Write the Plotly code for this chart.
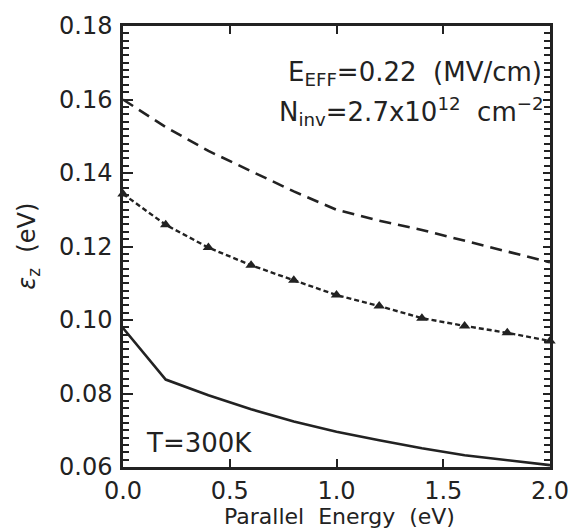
import plotly.graph_objects as go

# Data
x_dash = [0.0, 0.2, 0.4, 0.6, 0.8, 1.0, 1.2, 1.4, 1.6, 1.8, 2.0]
y_dash = [0.1600, 0.1525, 0.1460, 0.1405, 0.1350, 0.1300, 0.1270, 0.1245, 0.1215, 0.1185, 0.1157]

x_tri = [0.0, 0.2, 0.4, 0.6, 0.8, 1.0, 1.2, 1.4, 1.6, 1.8, 2.0]
y_tri = [0.1343, 0.1259, 0.1197, 0.1149, 0.1108, 0.1068, 0.1038, 0.1005, 0.0984, 0.0965, 0.0943]

x_solid = [0.0, 0.2, 0.4, 0.6, 0.8, 1.0, 1.2, 1.4, 1.6, 1.8, 2.0]
y_solid = [0.0978, 0.0838, 0.0795, 0.0757, 0.0724, 0.0696, 0.0673, 0.0651, 0.0632, 0.0619, 0.0605]

x_ticks = [0.0, 0.5, 1.0, 1.5, 2.0]
y_ticks = [0.06, 0.08, 0.10, 0.12, 0.14, 0.16, 0.18]
x_range = [0.0, 2.0]
y_range = [0.06, 0.18]

INK = "#222222"
FONT = "DejaVu Sans"

fig = go.Figure()
fig.add_trace(go.Scatter(x=x_dash, y=y_dash, mode="lines",
                         line=dict(color=INK, width=2.6, dash="12px,7px"),
                         showlegend=False, hoverinfo="skip"))
fig.add_trace(go.Scatter(x=x_tri, y=y_tri, mode="lines+markers",
                         line=dict(color=INK, width=2.4, dash="5px,3px"),
                         marker=dict(symbol="triangle-up", size=10, color=INK),
                         showlegend=False, hoverinfo="skip", cliponaxis=False))
fig.add_trace(go.Scatter(x=x_solid, y=y_solid, mode="lines",
                         line=dict(color=INK, width=2.6),
                         showlegend=False, hoverinfo="skip"))
# invisible trace to activate the mirrored (top/right) tick axes
fig.add_trace(go.Scatter(x=x_range, y=y_range, mode="markers", xaxis="x2", yaxis="y2",
                         marker=dict(opacity=0), showlegend=False, hoverinfo="skip"))

fig.update_layout(
    width=581, height=530,
    margin=dict(l=123, r=15, t=24, b=63),
    paper_bgcolor="white", plot_bgcolor="white",
    font=dict(family=FONT, color=INK, size=24),
    xaxis=dict(range=x_range, tickvals=x_ticks, tickformat=".1f",
               ticks="inside", ticklen=8, tickwidth=2, tickcolor=INK,
               showline=True, linecolor=INK, linewidth=2.5,
               showgrid=False, zeroline=False, ticklabeloverflow="allow",
               tickfont=dict(family=FONT, size=24)),
    yaxis=dict(range=y_range, tickvals=y_ticks, tickformat=".2f",
               ticks="inside", ticklen=10, tickwidth=2, tickcolor=INK,
               minor=dict(dtick=0.002, ticks="inside", ticklen=6, tickwidth=1.6, tickcolor=INK),
               showline=True, linecolor=INK, linewidth=2.5,
               showgrid=False, zeroline=False, ticklabeloverflow="allow",
               tickfont=dict(family=FONT, size=24), ticklabelstandoff=3),
    xaxis2=dict(range=x_range, tickvals=x_ticks, overlaying="x", side="top",
                ticks="inside", ticklen=8, tickwidth=2, tickcolor=INK,
                showline=True, linecolor=INK, linewidth=2.5,
                showticklabels=False, showgrid=False, zeroline=False),
    yaxis2=dict(range=y_range, tickvals=y_ticks, overlaying="y", side="right",
                ticks="inside", ticklen=7, tickwidth=2, tickcolor=INK,
                minor=dict(dtick=0.002, ticks="inside", ticklen=6, tickwidth=1.6, tickcolor=INK),
                showline=True, linecolor=INK, linewidth=2.5,
                showticklabels=False, showgrid=False, zeroline=False),
)

# axis titles
fig.add_annotation(xref="paper", yref="paper", x=0.506, y=-0.112, xanchor="center", yanchor="middle",
                   text="Parallel\u00a0 Energy\u00a0 (eV)", showarrow=False,
                   font=dict(family=FONT, size=22, color=INK))
fig.add_annotation(xref="paper", yref="paper", x=-0.222, y=0.5, xanchor="center", yanchor="middle",
                   text="<i>ε</i><sub>z</sub>\u00a0 (eV)", showarrow=False, textangle=-90,
                   font=dict(family=FONT, size=24, color=INK))

# in-plot labels
fig.add_annotation(xref="paper", yref="paper", x=0.985, y=0.892, xanchor="right", yanchor="middle",
                   text="E<sub>EFF</sub>=0.22\u00a0 (MV/cm)", showarrow=False,
                   font=dict(family=FONT, size=26, color=INK))
fig.add_annotation(xref="paper", yref="paper", x=0.99, y=0.806, xanchor="right", yanchor="middle",
                   text="N<sub>inv</sub>=2.7x10<sup>12</sup>\u00a0 cm<sup>\u22122</sup>", showarrow=False,
                   font=dict(family=FONT, size=26, color=INK))
fig.add_annotation(xref="paper", yref="paper", x=0.05, y=0.054, xanchor="left", yanchor="middle",
                   text="T=300K", showarrow=False,
                   font=dict(family=FONT, size=26, color=INK))

fig.write_html("out.html")
